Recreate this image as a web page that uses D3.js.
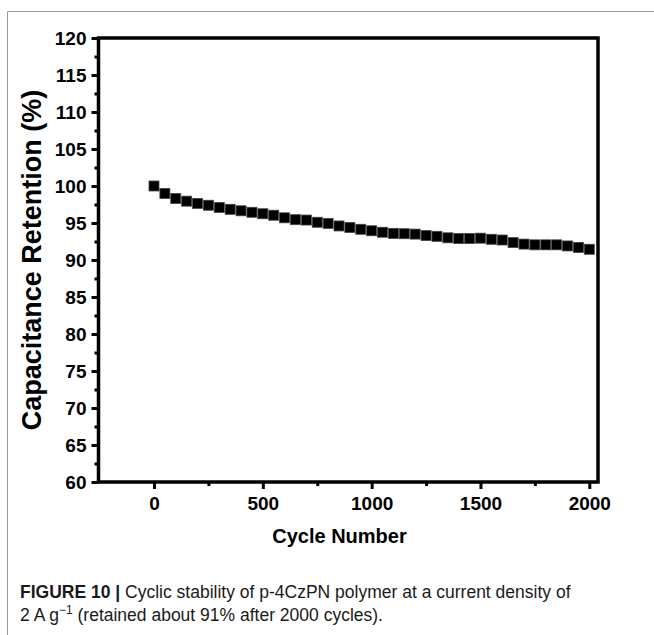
<!DOCTYPE html>
<html>
<head>
<meta charset="utf-8">
<script src="https://cdn.jsdelivr.net/npm/d3@7/dist/d3.min.js"></script>
<style>
  html, body { margin: 0; padding: 0; background: #fff; }
  svg { display: block; }
</style>
</head>
<body>
<svg id="chart" width="654" height="635"></svg>
<script>
// ---- data ----
const cycles = [0,50,100,150,200,250,300,350,400,450,500,550,600,650,700,750,800,850,900,950,
  1000,1050,1100,1150,1200,1250,1300,1350,1400,1450,1500,1550,1600,1650,1700,1750,1800,1850,1900,1950,2000];
const retention = [100.0,99.0,98.3,97.95,97.65,97.4,97.1,96.85,96.65,96.45,96.25,96.05,95.7,95.45,95.4,95.1,
  94.95,94.6,94.4,94.15,93.95,93.75,93.6,93.55,93.5,93.3,93.2,93.0,92.9,92.9,92.95,92.8,92.7,92.35,92.15,
  92.05,92.05,92.05,91.9,91.7,91.45];
const xTicks = [0,500,1000,1500,2000];
const xMinorTicks = [250,750,1250,1750];
const yTicks = [60,65,70,75,80,85,90,95,100,105,110,115,120];
const yMinorTicks = [62.5,67.5,72.5,77.5,82.5,87.5,92.5,97.5,102.5,107.5,112.5,117.5];
const xTitle = "Cycle Number";
const yTitle = "Capacitance Retention (%)";

const svg = d3.select("#chart");
const font = "Arial, 'Liberation Sans', Helvetica, sans-serif";

// page frame lines
svg.append("line").attr("x1", 7.5).attr("x2", 654).attr("y1", 11.5).attr("y2", 11.5)
  .attr("stroke", "#9a9a9a").attr("stroke-width", 1);
svg.append("line").attr("x1", 7.5).attr("x2", 7.5).attr("y1", 11.5).attr("y2", 635)
  .attr("stroke", "#9a9a9a").attr("stroke-width", 1);

const L = 98.5, R = 598, T = 38, B = 482;
const x = d3.scaleLinear().domain([-255, 2040]).range([L, R]);
const y = d3.scaleLinear().domain([60, 120]).range([B, T]);

// minor ticks
const gxm = svg.append("g").attr("transform", `translate(0,${B})`)
  .call(d3.axisBottom(x).tickValues(xMinorTicks).tickSize(4).tickFormat(""));
const gym = svg.append("g").attr("transform", `translate(${L},0)`)
  .call(d3.axisLeft(y).tickValues(yMinorTicks).tickSize(4).tickFormat(""));
// major ticks
const gx = svg.append("g").attr("transform", `translate(0,${B})`)
  .call(d3.axisBottom(x).tickValues(xTicks).tickSize(7).tickPadding(8).tickFormat(d3.format("d")));
const gy = svg.append("g").attr("transform", `translate(${L},0)`)
  .call(d3.axisLeft(y).tickValues(yTicks).tickSize(7).tickPadding(5).tickFormat(d3.format("d")));

[gxm, gym, gx, gy].forEach(g => {
  g.select(".domain").remove();
  g.selectAll(".tick line").attr("stroke", "#000").attr("stroke-width", 3);
  g.selectAll(".tick text").attr("fill", "#000").attr("font-family", font)
    .attr("font-weight", "bold").attr("font-size", 19);
});
gy.selectAll(".tick text").attr("dy", "0.36em");

// frame
svg.append("rect").attr("x", L).attr("y", T).attr("width", R - L).attr("height", B - T)
  .attr("fill", "none").attr("stroke", "#000").attr("stroke-width", 3.5);

// points
const sz = 10;
svg.append("g").selectAll("rect").data(cycles.map((c, i) => [c, retention[i]]))
  .join("rect")
  .attr("x", d => x(d[0]) - sz / 2).attr("y", d => y(d[1]) - sz / 2)
  .attr("width", sz).attr("height", sz)
  .attr("fill", "#000").attr("stroke", "#444").attr("stroke-width", 0.8);

// titles
svg.append("text").attr("x", 339.5).attr("y", 543).attr("text-anchor", "middle")
  .attr("font-family", font).attr("font-weight", "bold").attr("font-size", 20)
  .text(xTitle);
svg.append("text").attr("transform", "translate(41,260) rotate(-90)").attr("text-anchor", "middle")
  .attr("font-family", font).attr("font-weight", "bold").attr("font-size", 27)
  .text(yTitle);

// caption
const cap1 = svg.append("text").attr("x", 20).attr("y", 598)
  .attr("font-family", font).attr("font-size", 17.5).attr("fill", "#1a1a1a");
cap1.append("tspan").attr("font-weight", "bold").text("FIGURE 10 | ");
cap1.append("tspan").text("Cyclic stability of p-4CzPN polymer at a current density of");
const cap2 = svg.append("text").attr("x", 20).attr("y", 621)
  .attr("font-family", font).attr("font-size", 17.5).attr("fill", "#1a1a1a");
cap2.append("tspan").text("2 A g");
cap2.append("tspan").attr("font-size", 12).attr("dy", -7).text("\u22121");
cap2.append("tspan").attr("dy", 7).text(" (retained about 91% after 2000 cycles).");
</script>
</body>
</html>
